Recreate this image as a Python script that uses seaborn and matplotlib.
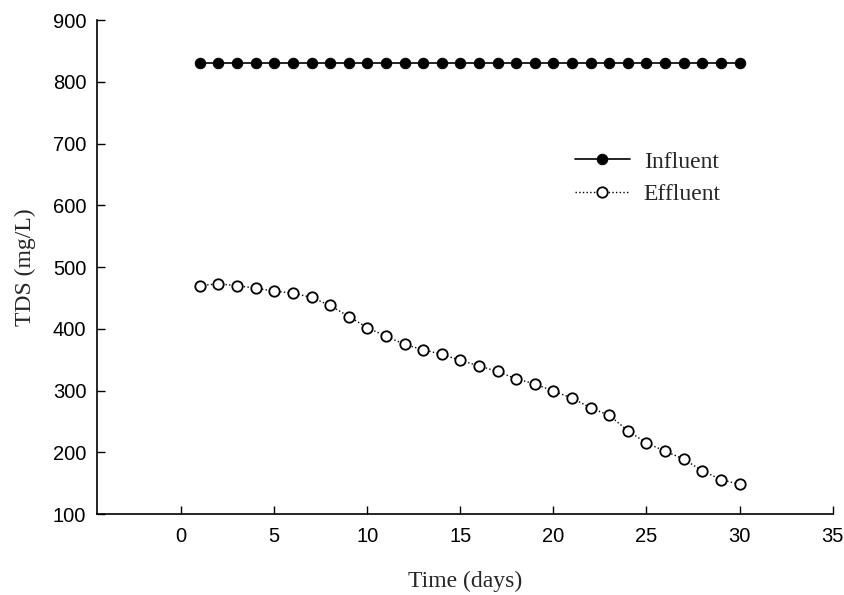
import matplotlib
matplotlib.use("Agg")
import matplotlib.pyplot as plt
import seaborn as sns
import numpy as np
import pandas as pd

days = list(range(1, 31))
influent = [830] * 30
effluent = [470, 473, 470, 466, 461, 458, 451, 438, 420, 402,
            388, 375, 366, 359, 349, 340, 331, 319, 311, 299,
            288, 272, 260, 235, 215, 202, 189, 170, 156, 148]
xticks = [0, 5, 10, 15, 20, 25, 30, 35]
yticks = [100, 200, 300, 400, 500, 600, 700, 800, 900]

sns.set_theme(style="ticks")
plt.rcParams['font.family'] = ['Liberation Sans', 'DejaVu Sans']

fig = plt.figure(figsize=(8.44, 5.95), dpi=100)
ax = fig.add_axes([0.1155, 0.136, 0.871, 0.83])

sns.lineplot(x=days, y=influent, ax=ax, color='black', linestyle='-', linewidth=1.2,
             marker='o', markersize=7.5, markerfacecolor='black', markeredgecolor='black',
             label='Influent')
sns.lineplot(x=days, y=effluent, ax=ax, color='black', linestyle=':', linewidth=1.0,
             marker='o', markersize=7.5, markerfacecolor='white', markeredgecolor='black',
             markeredgewidth=1.3, label='Effluent')

ax.set_xlim(-4.5, 35)
ax.set_ylim(100, 900)
ax.set_xticks(xticks)
ax.set_yticks(yticks)
ax.tick_params(direction='in', length=6, width=1, colors='black', labelsize=14.5)
ax.tick_params(axis='y', pad=8)
ax.tick_params(axis='x', pad=9)
for s in ['top', 'right']:
    ax.spines[s].set_visible(False)
for s in ['left', 'bottom']:
    ax.spines[s].set_color('black')
    ax.spines[s].set_linewidth(1.2)

ax.set_xlabel('Time (days)', family=['Liberation Serif'], fontsize=17, labelpad=18)
ax.set_ylabel('TDS (mg/L)', family=['Liberation Serif'], fontsize=17, labelpad=12)

leg = ax.legend(loc='upper left', bbox_to_anchor=(0.65, 0.735), frameon=False,
                borderpad=0, borderaxespad=0,
                prop={'family': 'Liberation Serif', 'size': 17},
                handlelength=2.3, handletextpad=0.6, labelspacing=0.45)

fig.savefig('out.png', dpi=100)
